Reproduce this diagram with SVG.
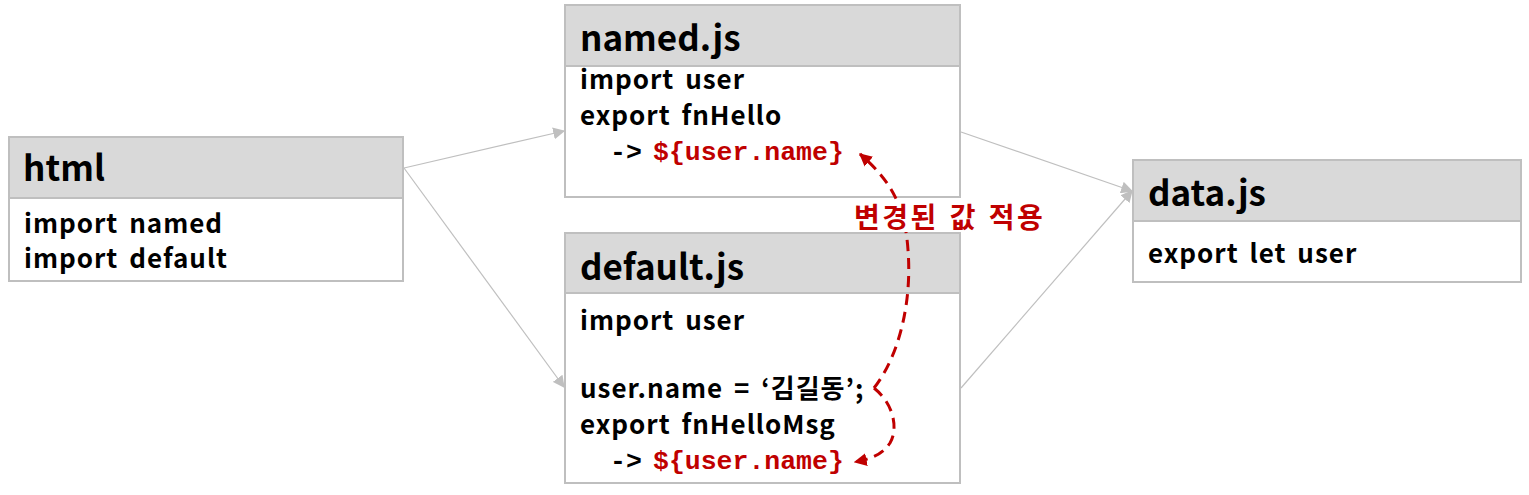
<svg xmlns="http://www.w3.org/2000/svg" width="1529" height="495" viewBox="0 0 1529 495">
<defs>
<style>
.box{fill:#fff;stroke:#bfbfbf;stroke-width:2}
.hdr{fill:#d9d9d9;stroke:#bfbfbf;stroke-width:2}
.ttl{font-family:"Noto Sans CJK KR","Noto Sans",sans-serif;font-weight:bold;font-size:35px;fill:#000}
.txt{font-family:"Noto Sans CJK KR","Noto Sans",sans-serif;font-weight:bold;font-size:26px;letter-spacing:1px;word-spacing:4px;fill:#000}
.code{font-family:"Liberation Mono",monospace;font-weight:bold;font-size:26.5px;fill:#c00000}
.arr{font-family:"Liberation Mono",monospace;font-weight:bold;font-size:26.5px;fill:#000}
.lbl{font-family:"Noto Sans CJK KR",sans-serif;font-weight:bold;font-size:28px;letter-spacing:2.5px;word-spacing:2px;fill:#c00000}
.conn{stroke:#bfbfbf;stroke-width:1.2;fill:none}
.red{stroke:#c00000;stroke-width:3;fill:none;stroke-dasharray:11,7}
</style>
<marker id="ag" viewBox="0 0 10 10" refX="9" refY="5" markerWidth="12" markerHeight="12" markerUnits="userSpaceOnUse" orient="auto"><path d="M0,0 L10,5 L0,10 z" fill="#bfbfbf"/></marker>
<marker id="ar" viewBox="0 0 10 10" refX="9" refY="5" markerWidth="13" markerHeight="13" markerUnits="userSpaceOnUse" orient="auto"><path d="M0,0 L10,5 L0,10 z" fill="#c00000"/></marker>
</defs>

<g id="connectors">
<line class="conn" x1="404" y1="168" x2="564" y2="131" marker-end="url(#ag)"/>
<line class="conn" x1="404" y1="168" x2="564" y2="387" marker-end="url(#ag)"/>
<line class="conn" x1="961" y1="132" x2="1132" y2="191" marker-end="url(#ag)"/>
<line class="conn" x1="961" y1="388" x2="1132" y2="191" marker-end="url(#ag)"/>
</g>

<g id="html">
<rect class="box" x="9" y="137" width="394" height="144"/>
<rect class="hdr" x="9" y="137" width="394" height="61"/>
<text class="ttl" x="23" y="181">html</text>
<text class="txt" x="24" y="233">import named</text>
<text class="txt" x="24" y="268">import default</text>
</g>

<g id="named">
<rect class="box" x="565" y="5" width="395" height="192"/>
<rect class="hdr" x="565" y="5" width="395" height="61"/>
<text class="ttl" x="580" y="51">named.js</text>
<text class="txt" x="580" y="89">import user</text>
<text class="txt" x="580" y="125">export fnHello</text>
<text class="arr" x="610" y="160">-&gt;</text>
<text class="code" x="653" y="160">${user.name}</text>
</g>

<g id="default">
<rect class="box" x="565" y="233" width="395" height="250"/>
<rect class="hdr" x="565" y="233" width="395" height="60"/>
<text class="ttl" x="580" y="280">default.js</text>
<text class="txt" x="580" y="330">import user</text>
<text class="txt" x="580" y="398">user.name = ‘김길동’;</text>
<text class="txt" x="580" y="434">export fnHelloMsg</text>
<text class="arr" x="610" y="469">-&gt;</text>
<text class="code" x="653" y="469">${user.name}</text>
</g>

<g id="data">
<rect class="box" x="1133" y="160" width="388" height="122"/>
<rect class="hdr" x="1133" y="160" width="388" height="61"/>
<text class="ttl" x="1148" y="206">data.js</text>
<text class="txt" x="1148" y="263">export let user</text>
</g>

<g id="flow">
<path class="red" d="M874,388 C900,355 912,300 908,250 C905,205 890,180 860,154" marker-end="url(#ar)"/>
<path class="red" d="M874,388 C895,405 898,430 890,443 C882,455 870,459 855,462" marker-end="url(#ar)"/>
<rect x="850" y="201" width="200" height="31" fill="#fff"/>
<text class="lbl" x="854" y="228">변경된 값 적용</text>
</g>
</svg>
